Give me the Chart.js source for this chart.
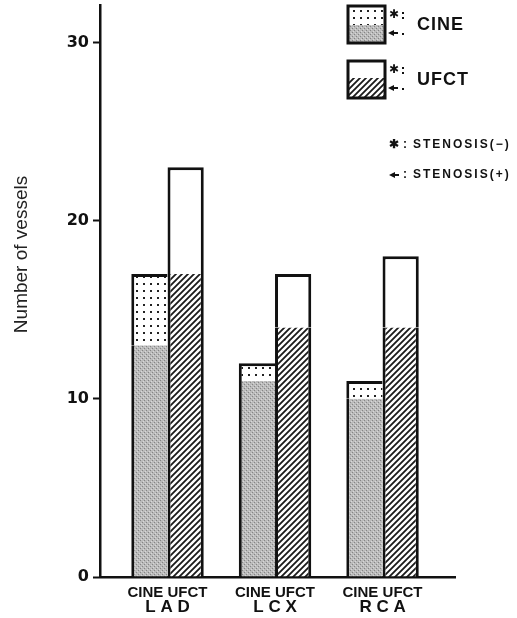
<!DOCTYPE html>
<html>
<head>
<meta charset="utf-8">
<script src="https://cdn.jsdelivr.net/npm/chart.js"></script>
<style>
  html, body { margin: 0; padding: 0; background: #fff; }
  #wrap { width: 517px; height: 618px; position: relative; }
</style>
</head>
<body>
<div id="wrap"><canvas id="vesselChart"></canvas></div>
<script>
// values
const categories = ['LAD', 'LCX', 'RCA'];
const methods = ['CINE', 'UFCT'];
const cineStenosisPos = [13, 11, 10];
const cineStenosisNeg = [4, 1, 1];
const ufctStenosisPos = [17, 14, 14];
const ufctStenosisNeg = [6, 3, 4];
const yTicks = [0, 10, 20, 30];
const yTitle = 'Number of vessels';
const notes = ['STENOSIS(\u2212)', 'STENOSIS(+)'];

const ink = '#111';

const makePattern = (w, h, draw) => {
    const c = document.createElement('canvas');
    c.width = w;
    c.height = h;
    const g = c.getContext('2d');
    draw(g, w, h);
    return g.createPattern(c, 'repeat');
};

// grey stipple
const stippleFill = makePattern(4, 4, (g) => {
    g.fillStyle = '#bbbbbb';
    g.fillRect(0, 0, 4, 4);
    g.fillStyle = '#858585';
    g.fillRect(0, 0, 1, 1);
    g.fillRect(2, 2, 1, 1);
    g.fillStyle = '#d8d8d8';
    g.fillRect(1, 3, 1, 1);
    g.fillRect(3, 1, 1, 1);
});

// white with dots
const dotFill = makePattern(7, 7, (g) => {
    g.fillStyle = '#fff';
    g.fillRect(0, 0, 7, 7);
    g.fillStyle = '#222';
    g.fillRect(3, 3, 2, 2);
});

// diagonal hatch
const hatchFill = makePattern(6, 6, (g) => {
    g.fillStyle = '#fff';
    g.fillRect(0, 0, 6, 6);
    g.strokeStyle = '#1a1a1a';
    g.lineWidth = 1.8;
    g.beginPath();
    g.moveTo(-1, 7); g.lineTo(7, -1);
    g.moveTo(-4, 4); g.lineTo(4, -4);
    g.moveTo(2, 10); g.lineTo(10, 2);
    g.stroke();
});

const toPoints = (arr) => arr.map((v, i) => ({ x: i, y: v }));

const yTitlePlugin = {
    id: 'yTitle',
    afterDraw(chart) {
        const { ctx } = chart;
        const y = chart.scales.y;
        ctx.save();
        ctx.translate(y.left + 22, y.getPixelForValue(18.1));
        ctx.rotate(-Math.PI / 2);
        ctx.font = '19px "Liberation Sans", Arial, sans-serif';
        ctx.fillStyle = '#222';
        ctx.textAlign = 'center';
        ctx.textBaseline = 'middle';
        ctx.fillText(yTitle, 0, 0);
        ctx.restore();
    }
};

const drawArrow = (ctx, x, y) => {
    ctx.beginPath();
    ctx.moveTo(x, y);
    ctx.lineTo(x + 6, y - 3);
    ctx.lineTo(x + 6, y + 3);
    ctx.closePath();
    ctx.fill();
    ctx.fillRect(x + 5, y - 1, 5, 2);
};

const legendPlugin = {
    id: 'methodLegend',
    afterDraw(chart) {
        const { ctx } = chart;
        const boxes = [
            { top: 6, split: 25, bottom: 43, upper: dotFill, lower: stippleFill, label: methods[0] },
            { top: 61, split: 78, bottom: 98, upper: '#fff', lower: hatchFill, label: methods[1] }
        ];
        const bx = 348, bw = 37;
        ctx.save();
        boxes.forEach((b) => {
            ctx.fillStyle = b.upper;
            ctx.fillRect(bx, b.top, bw, b.split - b.top);
            ctx.fillStyle = b.lower;
            ctx.fillRect(bx, b.split, bw, b.bottom - b.split);
            ctx.strokeStyle = ink;
            ctx.lineWidth = 3;
            ctx.strokeRect(bx, b.top, bw, b.bottom - b.top);

            ctx.fillStyle = ink;
            ctx.font = 'bold 12px "DejaVu Sans", sans-serif';
            ctx.textAlign = 'left';
            ctx.textBaseline = 'middle';
            ctx.fillText('\u2731', 389, b.top + 9);
            ctx.fillRect(402, b.top + 6, 2, 2);
            ctx.fillRect(402, b.top + 11, 2, 2);
            drawArrow(ctx, 388, b.bottom - 10);
            ctx.fillRect(402, b.bottom - 10, 2, 2);

            ctx.font = 'bold 18px "Liberation Sans", Arial, sans-serif';
            ctx.letterSpacing = '1px';
            ctx.fillText(b.label, 417, (b.top + b.bottom) / 2 + 1);
            ctx.letterSpacing = '0px';
        });

        ctx.font = 'bold 12px "Liberation Sans", Arial, sans-serif';
        ctx.textBaseline = 'middle';
        ctx.fillText('\u2731', 389, 145);
        drawArrow(ctx, 389, 175);
        ctx.letterSpacing = '2px';
        ctx.fillText(':', 403, 145);
        ctx.fillText(':', 403, 175);
        ctx.fillText(notes[0], 413, 145);
        ctx.fillText(notes[1], 413, 175);
        ctx.letterSpacing = '0px';
        ctx.restore();
    }
};

const catTicks = (s) => { s.ticks = categories.map((c, i) => ({ value: i })); };
const noPad = (s) => { s.paddingTop = 0; s.paddingBottom = 0; s.paddingLeft = 0; s.paddingRight = 0; };

const ctx = document.getElementById('vesselChart').getContext('2d');
const vesselChart = new Chart(ctx, {
    type: 'bar',
    data: {
        datasets: [
            {
                label: 'CINE stenosis(+)',
                data: toPoints(cineStenosisPos),
                stack: 'CINE',
                backgroundColor: stippleFill,
                borderColor: ink,
                borderWidth: { left: 3, right: 0, top: 0, bottom: 0 },
            },
            {
                label: 'CINE stenosis(-)',
                data: toPoints(cineStenosisNeg),
                stack: 'CINE',
                backgroundColor: dotFill,
                borderColor: ink,
                borderWidth: { left: 3, right: 0, top: 3, bottom: 0 },
            },
            {
                label: 'UFCT stenosis(+)',
                data: toPoints(ufctStenosisPos),
                stack: 'UFCT',
                backgroundColor: hatchFill,
                borderColor: ink,
                borderWidth: { left: 3, right: 3, top: 0, bottom: 0 },
            },
            {
                label: 'UFCT stenosis(-)',
                data: toPoints(ufctStenosisNeg),
                stack: 'UFCT',
                backgroundColor: '#fff',
                borderColor: ink,
                borderWidth: { left: 3, right: 3, top: 3, bottom: 0 },
            }
        ]
    },
    options: {
        responsive: true,
        maintainAspectRatio: false,
        animation: false,
        categoryPercentage: 0.674,
        barPercentage: 1,
        layout: { padding: { top: 5, right: 62, left: 0, bottom: 0 } },
        scales: {
            x: {
                type: 'linear',
                offset: false,
                min: -0.628,
                max: 2.674,
                afterBuildTicks: catTicks,
                afterFit: (s) => { s.height = 20; noPad(s); },
                grid: { display: false, drawTicks: false, offset: false },
                border: { color: ink, width: 2.5 },
                ticks: {
                    padding: 7,
                    color: ink,
                    font: { family: '"Liberation Sans", Arial, sans-serif', size: 15, weight: 'bold' },
                    callback: () => methods.join(' '),
                }
            },
            xCat: {
                type: 'linear',
                position: 'bottom',
                weight: 1,
                offset: false,
                min: -0.628,
                max: 2.674,
                afterBuildTicks: catTicks,
                afterFit: (s) => { s.height = 21; noPad(s); },
                grid: { display: false, drawTicks: false, offset: false },
                border: { display: false },
                ticks: {
                    padding: 0,
                    color: ink,
                    font: { family: '"Liberation Sans", Arial, sans-serif', size: 17, weight: 'bold' },
                    callback: (value) => categories[value].split('').join(' '),
                }
            },
            y: {
                stacked: true,
                min: 0,
                max: 32.1,
                afterBuildTicks: (s) => { s.ticks = yTicks.map((v) => ({ value: v })); },
                afterFit: (s) => { s.width = 100; noPad(s); },
                grid: { drawOnChartArea: false, drawTicks: true, tickLength: 7, tickWidth: 2, tickColor: ink },
                border: { color: ink, width: 2.5 },
                ticks: {
                    padding: 4,
                    color: ink,
                    font: { family: '"DejaVu Sans", sans-serif', size: 16, weight: 'bold' },
                }
            }
        },
        plugins: {
            legend: { display: false },
            tooltip: { enabled: false },
        }
    },
    plugins: [yTitlePlugin, legendPlugin]
});
</script>
</body>
</html>
